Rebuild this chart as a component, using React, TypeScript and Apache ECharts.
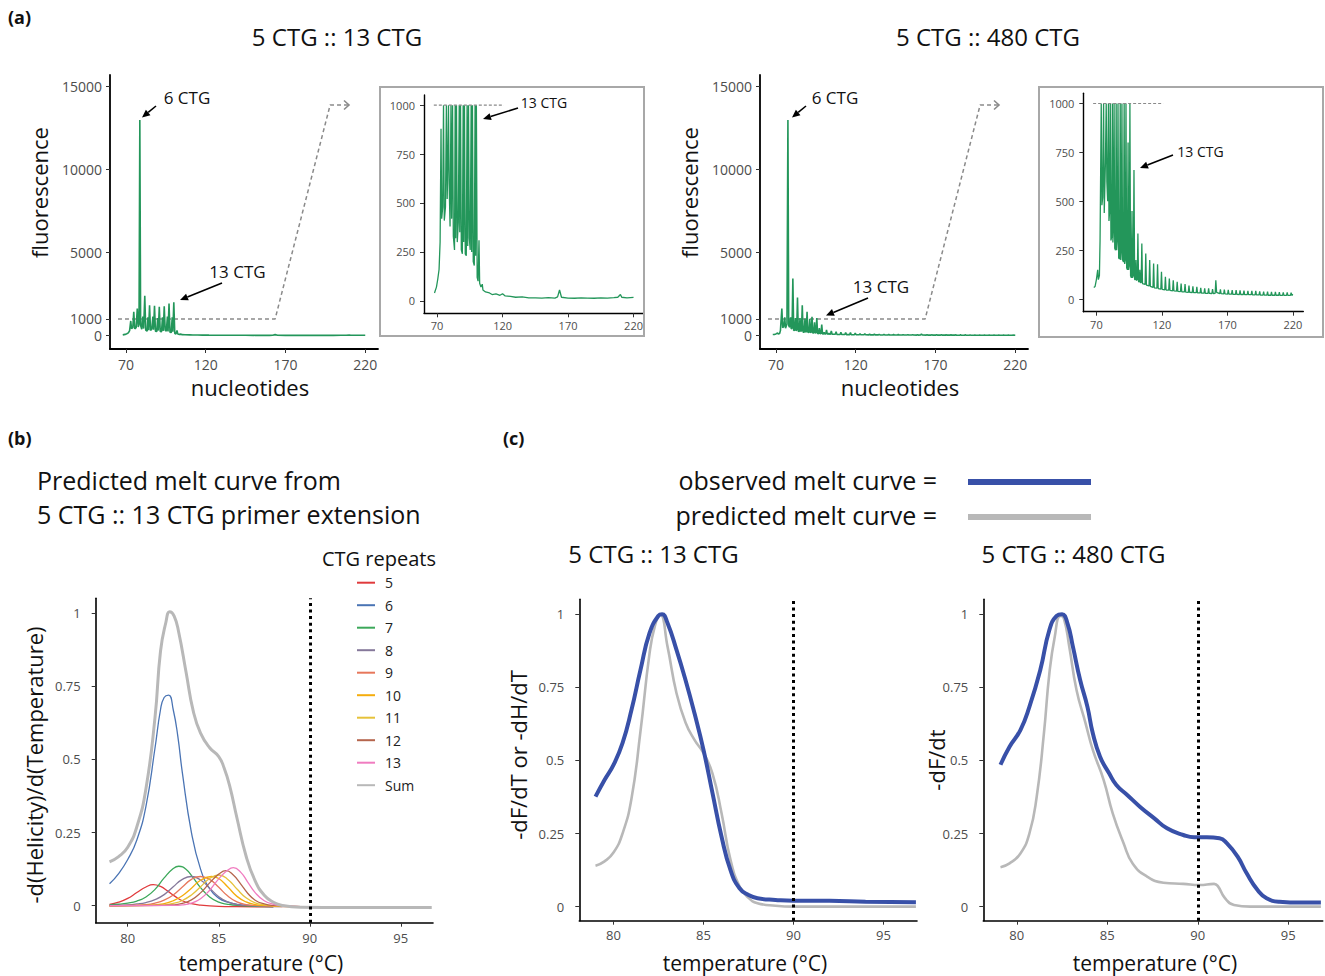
import React, { useEffect, useRef } from "react";
import * as echarts from "echarts";

const FONT = "'Open Sans', 'Noto Sans', sans-serif";

// ---------- (a) capillary electrophoresis traces: [nucleotides, fluorescence] ----------
const trace13: number[][] = [
  [68, 40], [69.5, 70], [70.5, 110], [71.5, 160], [72.3, 300], [73, 880], [73.5, 420], [74.3, 480], [74.9, 1430],
  [75.5, 410], [76.4, 480], [77.1, 1630], [77.7, 520], [78.2, 700], [78.7, 13000], [79.2, 600], [79.9, 380],
  [80.6, 1150], [81.1, 420], [81.8, 2400], [82.4, 330], [83.3, 260], [83.8, 1100], [84.2, 320], [84.8, 1830],
  [85.4, 300], [86.2, 400], [86.9, 1150], [87.3, 350], [87.9, 1790], [88.5, 260], [89.3, 240], [89.9, 1050],
  [90.3, 300], [90.9, 1730], [91.5, 240], [92.3, 230], [92.9, 1100], [93.4, 280], [94, 1770], [94.6, 320],
  [95.3, 260], [96, 1150], [96.4, 250], [97, 1930], [97.6, 200], [98.4, 180], [99, 1100], [99.4, 230],
  [100, 2010], [100.6, 120], [101.3, 100], [102, 310], [102.5, 90], [103.5, 70], [104.5, 85], [105, 55],
  [107, 45], [110, 40], [112, 32], [115, 35], [118, 28], [120, 36], [122, 25], [126, 22], [130, 18], [135, 20],
  [140, 15], [145, 15], [150, 14], [155, 16], [160, 14], [162, 20], [163.5, 55], [165, 18], [170, 14], [175, 13],
  [180, 15], [185, 14], [190, 13], [195, 15], [200, 14], [205, 16], [208, 18], [210, 32], [211, 18], [215, 15],
  [220, 17],
];

const trace480: number[][] = [
  [68, 60], [69, 65], [70, 100], [71, 150], [71.5, 100], [72.3, 120], [72.8, 300], [73.7, 1630], [74.2, 480],
  [74.8, 520], [75.5, 1100], [76, 440], [76.9, 700], [77.5, 13000], [78, 600], [78.6, 500], [79.2, 1100],
  [79.6, 400], [80.1, 450], [80.6, 3440], [81.1, 300], [81.7, 320], [82.2, 1050], [82.6, 290], [83, 350],
  [83.5, 2290], [84, 260], [84.6, 250], [85.1, 1050], [85.5, 250], [86, 300], [86.5, 1830], [87, 210],
  [87.7, 205], [88.2, 1020], [88.6, 200], [89, 240], [89.5, 1430], [90, 200], [90.7, 190], [91.2, 1010],
  [91.6, 180], [92.1, 200], [92.6, 1130], [93.1, 160], [93.7, 150], [94.2, 800], [94.6, 150], [95.1, 170],
  [95.6, 1050], [96.1, 120], [96.7, 110], [97.2, 450], [97.6, 110], [98.2, 120], [98.7, 660], [99.2, 100],
  [99.8, 100], [100.2, 200], [100.6, 95], [101.2, 100], [101.7, 335], [102.2, 90], [102.8, 88], [103.2, 150],
  [103.6, 85], [104.2, 85], [104.7, 284], [105.2, 80], [107.2, 75], [107.7, 233], [108.2, 72], [110.2, 68],
  [110.7, 200], [111.2, 65], [113.2, 60], [113.7, 182], [114.2, 58], [116.2, 56], [116.7, 179], [117.2, 54],
  [119.2, 52], [119.7, 140], [120.2, 50], [122.2, 48], [122.7, 114], [123.2, 47], [125.2, 46], [125.7, 106],
  [126.2, 45], [128.2, 43], [128.7, 97], [129.2, 42], [131.2, 41], [131.7, 89], [132.2, 40], [134.2, 39],
  [134.7, 80], [135.2, 38], [137.2, 37], [137.7, 77], [138.2, 36], [140.2, 35], [140.7, 70], [141.2, 35],
  [143.2, 34], [143.7, 66], [144.2, 33], [146.2, 33], [146.7, 63], [147.2, 32], [149.2, 32], [149.7, 58],
  [150.2, 31], [152.2, 31], [152.7, 55], [153.2, 30], [155.2, 30], [155.7, 55], [156.2, 30], [158.2, 29],
  [158.7, 52], [159.2, 29], [160.7, 30], [161.2, 97], [161.8, 35], [164.2, 28], [164.7, 50], [165.2, 28],
  [167.2, 27], [167.7, 49], [168.2, 27], [170.2, 26], [170.7, 48], [171.2, 26], [173.2, 26], [173.7, 47],
  [174.2, 25], [176.2, 25], [176.7, 46], [177.2, 25], [179.2, 24], [179.7, 45], [180.2, 24], [182.2, 24],
  [182.7, 44], [183.2, 23], [185.2, 23], [185.7, 43], [186.2, 23], [188.2, 23], [188.7, 43], [189.2, 22],
  [191.2, 22], [191.7, 42], [192.2, 22], [194.2, 22], [194.7, 40], [195.2, 21], [197.2, 21], [197.7, 38],
  [198.2, 21], [200.2, 21], [200.7, 38], [201.2, 20], [203.2, 20], [203.7, 37], [204.2, 20], [206.2, 20],
  [206.7, 37], [207.2, 20], [209.2, 20], [209.7, 36], [210.2, 20], [212.2, 19], [212.7, 35], [213.2, 19],
  [215.2, 19], [215.7, 35], [216.2, 19], [218.2, 19], [218.7, 33], [219.2, 19], [220, 25],
];

const zoomGuide: number[][] = [[65, 1000], [163.5, 1000], [198, 13900], [209.5, 13900]];
const insetGuide: number[][] = [[67.5, 1000], [121, 1000]];
const insetCap = 1000;
const ntTicks = [70, 120, 170, 220];
const fluoTicks = [0, 1000, 5000, 10000, 15000];
const insetTicks = [0, 250, 500, 750, 1000];

// ---------- (b) predicted melt curves per CTG repeat: [temperature, -dH/dT] ----------
const repeatNames = ["5", "6", "7", "8", "9", "10", "11", "12", "13", "Sum"];
const repeatColors = ["#e03a3c", "#4a74b4", "#3ca85a", "#85789a", "#e7775b", "#f5ad0d", "#e6c23a", "#b5654d", "#f07cc0", "#b8b8b8"];
const curve5 = [[79, 0.005], [79.5, 0.012], [80, 0.025], [80.5, 0.045], [81, 0.064], [81.4, 0.072], [81.8, 0.066], [82.2, 0.05], [82.6, 0.032], [83, 0.017], [83.5, 0.007], [84, 0.002], [85, -0.002], [86, -0.003], [88, -0.004]];
const curve6 = [[79, 0.075], [79.5, 0.11], [80, 0.158], [80.5, 0.225], [81, 0.34], [81.5, 0.54], [81.8, 0.67], [82, 0.712], [82.25, 0.72], [82.5, 0.67], [82.75, 0.58], [83, 0.455], [83.5, 0.25], [84, 0.125], [84.5, 0.058], [85, 0.026], [85.5, 0.012], [86, 0.005], [87, 0], [88, -0.003]];
const curve7 = [[79, 0.003], [79.5, 0.005], [80, 0.009], [80.5, 0.016], [81, 0.03], [81.5, 0.056], [82, 0.095], [82.5, 0.127], [82.8, 0.135], [83.2, 0.125], [83.6, 0.095], [84, 0.062], [84.5, 0.03], [85, 0.012], [85.5, 0.005], [86, 0.001], [87, -0.002], [88, -0.003]];
const curve8 = [[79, 0.001], [80, 0.003], [80.5, 0.006], [81, 0.011], [81.5, 0.021], [82, 0.038], [82.5, 0.065], [83, 0.09], [83.5, 0.1], [84, 0.088], [84.5, 0.06], [85, 0.031], [85.5, 0.013], [86, 0.004], [86.5, 0.001], [87.5, -0.002], [88.5, -0.003]];
const curve9 = [[79, 0], [80, 0.001], [81, 0.004], [81.5, 0.009], [82, 0.019], [82.5, 0.037], [83, 0.064], [83.5, 0.09], [84, 0.1], [84.5, 0.09], [85, 0.063], [85.5, 0.033], [86, 0.013], [86.5, 0.004], [87, 0.001], [88, -0.002], [89, -0.003]];
const curve10 = [[79, 0], [81, 0.001], [82, 0.007], [82.5, 0.017], [83, 0.034], [83.5, 0.06], [84, 0.087], [84.6, 0.1], [85, 0.093], [85.5, 0.064], [86, 0.032], [86.5, 0.013], [87, 0.004], [87.5, 0.001], [88.5, -0.002], [89.5, -0.003]];
const curve11 = [[79, 0], [81.5, 0.001], [82, 0.003], [82.5, 0.008], [83, 0.018], [83.5, 0.037], [84, 0.065], [84.5, 0.093], [85, 0.105], [85.5, 0.09], [86, 0.057], [86.5, 0.027], [87, 0.01], [87.5, 0.003], [88, 0], [89.5, -0.003]];
const curve12 = [[79, 0], [82, 0.001], [82.5, 0.003], [83, 0.008], [83.5, 0.02], [84, 0.044], [84.5, 0.078], [85, 0.108], [85.4, 0.12], [85.8, 0.105], [86.2, 0.075], [86.6, 0.042], [87, 0.019], [87.5, 0.006], [88, 0.001], [89.5, -0.003]];
const curve13 = [[79, 0], [82.5, 0.001], [83, 0.003], [83.5, 0.009], [84, 0.024], [84.5, 0.053], [85, 0.092], [85.5, 0.122], [85.8, 0.13], [86.2, 0.115], [86.6, 0.08], [87, 0.045], [87.5, 0.017], [88, 0.005], [88.5, 0.001], [89.5, -0.003]];
const curveSum = [[79, 0.15], [79.5, 0.168], [80, 0.2], [80.5, 0.27], [81, 0.4], [81.5, 0.645], [81.8, 0.87], [82.1, 0.97], [82.3, 1.005], [82.55, 0.99], [82.8, 0.935], [83.2, 0.8], [83.6, 0.665], [84, 0.59], [84.5, 0.54], [85, 0.51], [85.3, 0.47], [85.6, 0.41], [86, 0.3], [86.5, 0.17], [87, 0.085], [87.5, 0.036], [88, 0.012], [88.5, 0.001], [89.5, -0.005], [92, -0.006], [96.7, -0.006]];
const repeatCurves = [curve5, curve6, curve7, curve8, curve9, curve10, curve11, curve12, curve13, curveSum];

// ---------- (c) observed vs predicted melt curves ----------
const observed13 = [[79, 0.376], [79.5, 0.433], [80, 0.485], [80.5, 0.559], [81, 0.673], [81.5, 0.81], [82, 0.935], [82.5, 0.995], [82.7, 1.0], [83, 0.97], [83.5, 0.878], [84, 0.775], [84.5, 0.661], [85, 0.536], [85.5, 0.388], [86, 0.24], [86.5, 0.125], [87, 0.063], [87.5, 0.04], [88, 0.029], [89, 0.023], [90, 0.02], [92, 0.02], [94, 0.017], [96.8, 0.015]];
const predicted13 = [[79, 0.14], [79.5, 0.155], [80, 0.185], [80.5, 0.25], [81, 0.37], [81.5, 0.6], [82, 0.865], [82.3, 0.96], [82.6, 1.0], [83, 0.89], [83.5, 0.73], [84, 0.63], [84.5, 0.57], [85, 0.525], [85.5, 0.455], [86, 0.32], [86.5, 0.16], [87, 0.07], [87.5, 0.03], [88, 0.012], [89, 0.003], [90, 0], [96.8, 0]];
const observed480 = [[79.1, 0.485], [79.6, 0.547], [80.2, 0.604], [80.7, 0.684], [81.3, 0.81], [81.8, 0.946], [82.2, 0.994], [82.5, 1.0], [82.8, 0.969], [83.1, 0.889], [83.5, 0.775], [83.9, 0.684], [84.2, 0.593], [84.6, 0.513], [85.1, 0.456], [85.5, 0.416], [86.1, 0.382], [86.8, 0.342], [87.6, 0.302], [88.3, 0.268], [89.2, 0.245], [89.8, 0.237], [90.5, 0.237], [91.2, 0.234], [91.6, 0.217], [92.2, 0.171], [92.7, 0.114], [93.3, 0.057], [93.8, 0.029], [94.5, 0.017], [95.7, 0.014], [96.8, 0.014]];
const predicted480 = [[79.1, 0.135], [79.6, 0.148], [80.2, 0.182], [80.7, 0.251], [81.1, 0.376], [81.5, 0.593], [81.8, 0.798], [82.1, 0.924], [82.4, 0.994], [82.6, 0.986], [82.9, 0.889], [83.3, 0.741], [83.8, 0.627], [84.2, 0.536], [84.8, 0.433], [85.3, 0.319], [85.9, 0.217], [86.4, 0.148], [87.2, 0.103], [88.1, 0.082], [89.2, 0.078], [90.1, 0.074], [90.9, 0.078], [91.1, 0.071], [91.5, 0.029], [92, 0.006], [92.9, 0], [96.8, 0]];
const tempTicks = [80, 85, 90, 95];
const derivTicks = [0, 0.25, 0.5, 0.75, 1];
const meltThreshold = 90;

const GREEN = "#23965a";
const OBS_BLUE = "#3850a8";
const PRED_GRAY = "#b8b8b8";
const GUIDE_GRAY = "#8a8a8a";

function xAx(gridIndex: number, min: number, max: number, ticks: number[], fs: number, margin: number, lw: number) {
  return {
    type: "value", gridIndex, min, max,
    axisLine: { show: true, onZero: false, lineStyle: { color: "#000", width: lw } },
    axisTick: { show: true, customValues: ticks, length: 4, lineStyle: { color: "#333", width: 1 } },
    axisLabel: { customValues: ticks, color: "#4d4d4d", fontSize: fs, fontFamily: FONT, margin },
    splitLine: { show: false },
  };
}
function yAx(gridIndex: number, min: number, max: number, ticks: number[], fs: number, margin: number, lw: number) {
  return {
    type: "value", gridIndex, min, max,
    axisLine: { show: true, onZero: false, lineStyle: { color: "#000", width: lw } },
    axisTick: { show: true, customValues: ticks, length: 4, lineStyle: { color: "#333", width: 1 } },
    axisLabel: { customValues: ticks, color: "#4d4d4d", fontSize: fs, fontFamily: FONT, margin, lineHeight: fs, formatter: (v: number) => String(v) },
    splitLine: { show: false },
  };
}

function txt(text: string, x: number, y: number, fontSize: number, opts: any = {}) {
  return {
    type: "text", x, y, rotation: opts.rotation || 0, z: 100,
    style: {
      text, x: 0, y: 0, fontSize, fontFamily: FONT, fontWeight: opts.bold ? "bold" : "normal",
      fill: opts.fill || "#111", align: opts.align || "center", verticalAlign: "middle",
    },
  };
}

function arrow(x1: number, y1: number, x2: number, y2: number) {
  const a = Math.atan2(y2 - y1, x2 - x1);
  const L = 8, W = 3.6;
  const bx = x2 - L * Math.cos(a), by = y2 - L * Math.sin(a);
  return [
    { type: "line", z: 100, shape: { x1, y1, x2: bx, y2: by }, style: { stroke: "#000", lineWidth: 1.6 } },
    {
      type: "polygon", z: 100,
      shape: { points: [[x2, y2], [bx + W * Math.sin(a), by - W * Math.cos(a)], [bx - W * Math.sin(a), by + W * Math.cos(a)]] },
      style: { fill: "#000" },
    },
  ];
}

function chevron(x: number, y: number) {
  return { type: "polyline", z: 100, shape: { points: [[x - 5, y - 4.5], [x, y], [x - 5, y + 4.5]] }, style: { stroke: GUIDE_GRAY, lineWidth: 1.6, fill: null } };
}

const lineBase = { type: "line", symbol: "none", showSymbol: false, silent: true, animation: false };

function dotted90() {
  return {
    silent: true, symbol: ["none", "none"], label: { show: false }, animation: false,
    lineStyle: { color: "#000", type: [3, 3.6], width: 3 },
    data: [{ xAxis: meltThreshold }],
  };
}

export default function App() {
  const ref = useRef<HTMLDivElement>(null);
  useEffect(() => {
    document.body.style.margin = "0";
    const chart = echarts.init(ref.current!, null, { renderer: "svg" });
    const capped = (t: number[][]) => t.map(([x, y]) => [x, Math.min(y, insetCap)]);

    const series: any[] = [
      { ...lineBase, xAxisIndex: 0, yAxisIndex: 0, data: zoomGuide, lineStyle: { color: GUIDE_GRAY, width: 1.5, type: [4, 3] } },
      { ...lineBase, xAxisIndex: 0, yAxisIndex: 0, data: trace13, lineStyle: { color: GREEN, width: 1.6 } },
      { ...lineBase, xAxisIndex: 1, yAxisIndex: 1, data: capped(trace13), lineStyle: { color: GREEN, width: 1.3 } },
      { ...lineBase, xAxisIndex: 1, yAxisIndex: 1, data: insetGuide, lineStyle: { color: GUIDE_GRAY, width: 1.2, type: [3, 2] } },
      { ...lineBase, xAxisIndex: 2, yAxisIndex: 2, data: zoomGuide, lineStyle: { color: GUIDE_GRAY, width: 1.5, type: [4, 3] } },
      { ...lineBase, xAxisIndex: 2, yAxisIndex: 2, data: trace480, lineStyle: { color: GREEN, width: 1.6 } },
      { ...lineBase, xAxisIndex: 3, yAxisIndex: 3, data: capped(trace480), lineStyle: { color: GREEN, width: 1.3 } },
      { ...lineBase, xAxisIndex: 3, yAxisIndex: 3, data: insetGuide, lineStyle: { color: GUIDE_GRAY, width: 1.2, type: [3, 2] } },
    ];
    repeatNames.forEach((name, i) => {
      const isSum = name === "Sum";
      series.push({
        ...lineBase, name, xAxisIndex: 4, yAxisIndex: 4, data: repeatCurves[i], smooth: 0.5,
        color: repeatColors[i], itemStyle: { color: repeatColors[i] },
        lineStyle: { color: repeatColors[i], width: isSum ? 3 : 1.3 },
        markLine: isSum ? dotted90() : undefined,
      });
    });
    series.push(
      { ...lineBase, xAxisIndex: 5, yAxisIndex: 5, data: predicted13, smooth: 0.5, lineStyle: { color: PRED_GRAY, width: 2.6 } },
      { ...lineBase, xAxisIndex: 5, yAxisIndex: 5, data: observed13, smooth: 0.5, lineStyle: { color: OBS_BLUE, width: 4 }, markLine: dotted90() },
      { ...lineBase, xAxisIndex: 6, yAxisIndex: 6, data: predicted480, smooth: 0.5, lineStyle: { color: PRED_GRAY, width: 2.6 } },
      { ...lineBase, xAxisIndex: 6, yAxisIndex: 6, data: observed480, smooth: 0.5, lineStyle: { color: OBS_BLUE, width: 4 }, markLine: dotted90() },
    );

    const graphic: any[] = [
      txt("(a)", 8, 17, 18, { bold: true, align: "left" }),
      txt("(b)", 8, 438, 18, { bold: true, align: "left" }),
      txt("(c)", 503, 438, 18, { bold: true, align: "left" }),
      txt("5 CTG :: 13 CTG", 337, 36, 24),
      txt("5 CTG :: 480 CTG", 988, 36, 24),
      txt("fluorescence", 39, 192.5, 22, { rotation: Math.PI / 2 }),
      txt("fluorescence", 689, 192.5, 22, { rotation: Math.PI / 2 }),
      txt("nucleotides", 250, 387, 22),
      txt("nucleotides", 900, 387, 22),
      txt("6 CTG", 187, 97.5, 17),
      txt("13 CTG", 237.5, 271.5, 17),
      txt("13 CTG", 544, 102, 14),
      txt("6 CTG", 835, 97.5, 17),
      txt("13 CTG", 881, 286, 17),
      txt("13 CTG", 1200.5, 151, 14),
      ...arrow(156, 106, 142, 117.5),
      ...arrow(222, 283, 180, 300),
      ...arrow(518, 108, 483, 119),
      ...arrow(806, 106, 792, 117.5),
      ...arrow(868, 298, 826, 315.5),
      ...arrow(1173, 155, 1140, 168),
      chevron(349, 105),
      chevron(999, 105),
      { type: "rect", z: 90, shape: { x: 380, y: 87, width: 264, height: 249 }, style: { fill: null, stroke: "#a8a8a8", lineWidth: 2 } },
      { type: "rect", z: 90, shape: { x: 1039, y: 87, width: 284, height: 250 }, style: { fill: null, stroke: "#a8a8a8", lineWidth: 2 } },
      txt("Predicted melt curve from", 37, 480, 25, { align: "left" }),
      txt("5 CTG :: 13 CTG primer extension", 37, 514, 25, { align: "left" }),
      txt("CTG repeats", 379, 558, 20),
      txt("-d(Helicity)/d(Temperature)", 34, 765, 22, { rotation: Math.PI / 2 }),
      txt("temperature (°C)", 261, 963, 21),
      txt("observed melt curve =", 937, 480, 25, { align: "right" }),
      txt("predicted melt curve =", 937, 515, 25, { align: "right" }),
      { type: "line", z: 100, shape: { x1: 968, y1: 482, x2: 1091, y2: 482 }, style: { stroke: OBS_BLUE, lineWidth: 6 } },
      { type: "line", z: 100, shape: { x1: 968, y1: 517, x2: 1091, y2: 517 }, style: { stroke: PRED_GRAY, lineWidth: 6 } },
      txt("5 CTG :: 13 CTG", 653.5, 553, 24),
      txt("5 CTG :: 480 CTG", 1073.5, 553, 24),
      txt("-dF/dT or -dH/dT", 518, 755, 22, { rotation: Math.PI / 2 }),
      txt("-dF/dt", 936, 760, 22, { rotation: Math.PI / 2 }),
      txt("temperature (°C)", 745, 963, 21),
      txt("temperature (°C)", 1155, 963, 21),
    ];

    chart.setOption({
      animation: false,
      backgroundColor: "#ffffff",
      textStyle: { fontFamily: FONT },
      grid: [
        { left: 110, top: 75, width: 268, height: 274 },
        { left: 424, top: 95, width: 220, height: 218.3 },
        { left: 760, top: 75, width: 268, height: 274 },
        { left: 1083.3, top: 93.3, width: 220, height: 218.4 },
        { left: 95.7, top: 598.3, width: 337.3, height: 324.4 },
        { left: 579.3, top: 599.3, width: 337.7, height: 321.4 },
        { left: 983.3, top: 599.3, width: 339.4, height: 321.4 },
      ],
      xAxis: [
        xAx(0, 60, 228, ntTicks, 14, 8, 1.8),
        xAx(1, 60, 228, ntTicks, 11, 7, 1.4),
        xAx(2, 60, 228, ntTicks, 14, 8, 1.8),
        xAx(3, 60, 228, ntTicks, 11, 7, 1.4),
        xAx(4, 78.24, 96.77, tempTicks, 13, 9, 1.6),
        xAx(5, 78.1, 96.86, tempTicks, 13, 8, 1.6),
        xAx(6, 78.15, 96.9, tempTicks, 13, 8, 1.6),
      ],
      yAxis: [
        yAx(0, -810, 15706, fluoTicks, 14, 8, 1.8),
        yAx(1, -64, 1052, insetTicks, 11, 9, 1.4),
        yAx(2, -810, 15706, fluoTicks, 14, 8, 1.8),
        yAx(3, -64, 1052, insetTicks, 11, 9, 1.4),
        yAx(4, -0.058, 1.051, derivTicks, 13, 15, 1.6),
        yAx(5, -0.048, 1.051, derivTicks, 13, 15, 1.6),
        yAx(6, -0.048, 1.051, derivTicks, 13, 15, 1.6),
      ],
      legend: {
        data: repeatNames, orient: "vertical", left: 357, top: 574.7, padding: 0,
        itemWidth: 18, itemHeight: 2, itemGap: 6.5, icon: "rect", selectedMode: false,
        textStyle: { fontSize: 14, lineHeight: 16, color: "#222", fontFamily: FONT, padding: [0, 0, 0, 5] },
      },
      series,
      graphic,
    });
    return () => chart.dispose();
  }, []);
  return <div ref={ref} style={{ width: 1325, height: 976 }} />;
}
